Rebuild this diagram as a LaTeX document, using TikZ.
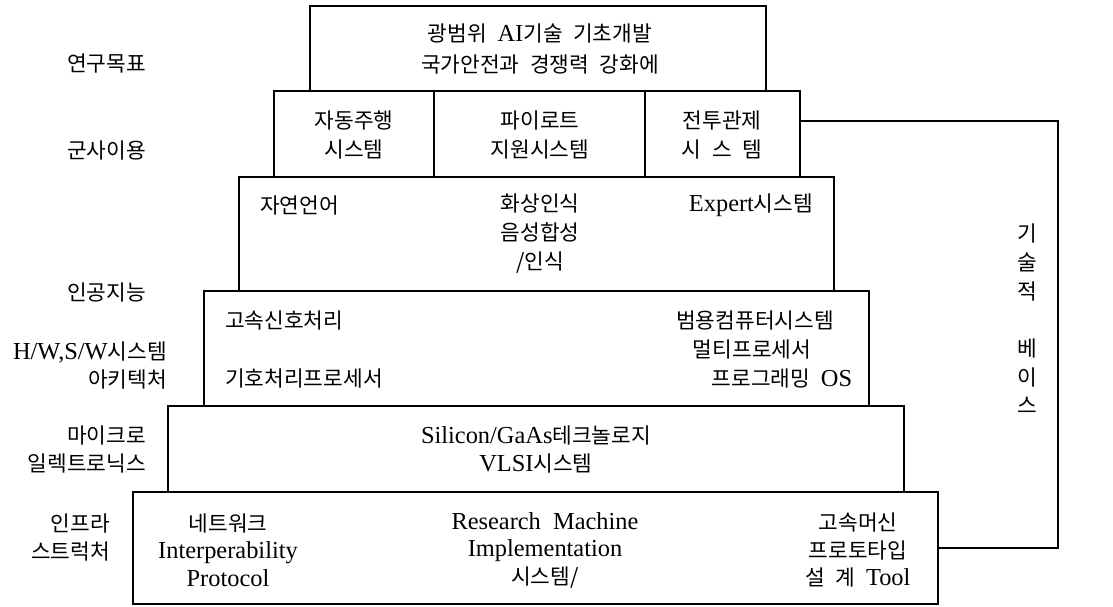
\documentclass[tikz,border=0pt]{standalone}
\usepackage{fontspec}
\setmainfont{Noto Sans CJK KR}[WordSpace=2.2]
\newfontfamily\lat{Liberation Serif}[Scale=1.14]
\newcommand{\la}[1]{{\lat #1}}
\begin{document}
\begin{tikzpicture}[x=1pt,y=-1pt,
  box/.style={draw, line width=1.4pt, inner sep=0pt, outer sep=0pt},
  txt/.style={inner sep=0pt, align=center, font=\fontsize{21.4}{29}\selectfont},
  lbl/.style={inner sep=0pt, align=right, font=\fontsize{21.4}{28}\selectfont},
  link/.style={line width=1.4pt}]
\useasboundingbox (0,0) rectangle (1113,606);

% boxes
\node[box, minimum width=456pt, minimum height=85pt] (top) at (538,48.5) {};
\node[box, minimum width=160pt, minimum height=86pt] (r2a) at (354,134) {};
\node[box, minimum width=211pt, minimum height=86pt] (r2b) at (539.5,134) {};
\node[box, minimum width=155pt, minimum height=86pt] (r2c) at (722.5,134) {};
\node[box, minimum width=595pt, minimum height=114pt] (r3) at (536.5,234) {};
\node[box, minimum width=665pt, minimum height=115pt] (r4) at (536.5,348.5) {};
\node[box, minimum width=736pt, minimum height=86pt] (r5) at (536,449) {};
\node[box, minimum width=805pt, minimum height=112pt] (r6) at (535.5,548) {};

% texts in boxes
\node[txt, font=\fontsize{21.4}{31}\selectfont] (ttop) at (540,48.5) {광범위 \la{AI}기술 기초개발\\국가안전과 경쟁력 강화에};
\node[txt] (t2a) at (354,135) {자동주행\\시스템};
\node[txt] (t2b) at (540,135) {파이로트\\지원시스템};
\node[txt] (t2c) at (722,135) {전투관제\\시 스 템};
\node[txt, anchor=west] (t3a) at (260,205) {자연언어};
\node[txt] (t3b) at (540,234) {화상인식\\음성합성\\/인식};
\node[txt] (t3c) at (751,205) {\la{Expert}시스템};
\node[txt, anchor=west] (t4a) at (225,320) {고속신호처리};
\node[txt, anchor=west] (t4b) at (225,378) {기호처리프로세서};
\node[txt] (t4c) at (755,320) {범용컴퓨터시스템};
\node[txt] (t4d) at (752,349) {멀티프로세서};
\node[txt] (t4e) at (782,378) {프로그래밍 \la{OS}};
\node[txt, font=\fontsize{21.4}{28}\selectfont] (t5) at (536,449) {\la{Silicon/GaAs}테크놀로지\\\la{VLSI}시스템};
\node[txt, font=\fontsize{21.4}{27.5}\selectfont] (t6a) at (228,550) {네트워크\\\la{Interperability}\\\la{Protocol}};
\node[txt, font=\fontsize{21.4}{27.5}\selectfont] (t6b) at (545,550) {\la{Research\ \ Machine}\\\la{Implementation}\\시스템/};
\node[txt, font=\fontsize{21.4}{27.5}\selectfont] (t6c) at (858,550) {고속머신\\프로토타입\\설 계 \la{Tool}};

% left labels
\node[lbl, anchor=east] (l1) at (146,64) {연구목표};
\node[lbl, anchor=east] (l2) at (146,150) {군사이용};
\node[lbl, anchor=east] (l3) at (146,292) {인공지능};
\node[lbl, anchor=east] (l4) at (167,365) {\la{H/W,S/W}시스템\\아키텍처};
\node[lbl, anchor=east] (l5) at (146,449) {마이크로\\일렉트로닉스};
\node[lbl, anchor=east] (l6) at (110,537) {인프라\\스트럭처};

% side connector and label
\draw[link] ([yshift=13pt]r2c.east) -- ++(258,0) |- (r6.east);
\node[txt, font=\fontsize{21.4}{28.7}\selectfont] (vt) at (1027,319) {기\\술\\적\\\mbox{}\\베\\이\\스};
\end{tikzpicture}
\end{document}
